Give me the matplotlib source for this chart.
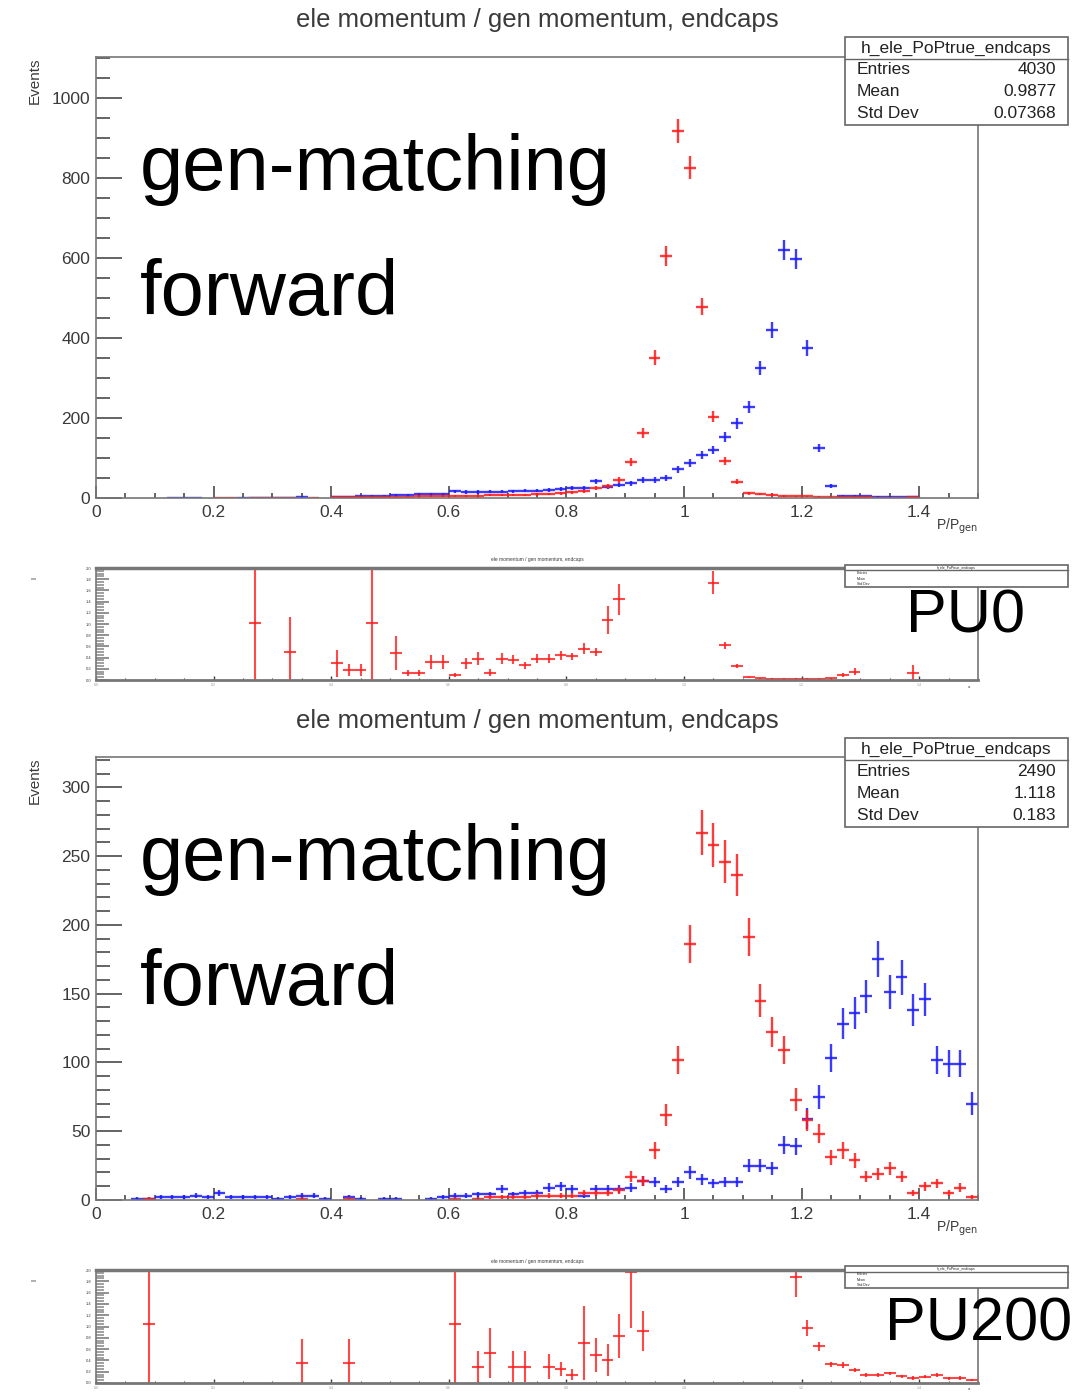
import numpy as np
import matplotlib
matplotlib.use("Agg")
import matplotlib.pyplot as plt
from matplotlib.ticker import MultipleLocator, FuncFormatter
from matplotlib.patches import Rectangle

plt.rcParams['font.family'] = ['Liberation Sans', 'DejaVu Sans']

W, H = 1080, 1394

# 75 bins of 0.02 between 0 and 1.5
bin_edges = np.linspace(0.0, 1.5, 76)
bin_centers = 0.5 * (bin_edges[1:] + bin_edges[:-1])

# PU0, red = gen-matching, blue = forward
pu0_genmatch = [0, 0, 0, 0, 0, 0, 0, 0, 0, 0,
                1, 1, 0, 1, 1, 1, 1, 0, 1, 0,
                2, 2, 2, 2, 3, 3, 3, 4, 4, 5,
                5, 6, 6, 7, 7, 8, 8, 9, 10, 12,
                14, 17, 25, 30, 45, 90, 162, 350, 605, 918,
                825, 478, 203, 92, 41, 12, 10, 7, 5, 4,
                4, 3, 3, 2, 2, 2, 1, 1, 1, 2,
                0, 0, 0, 0, 0]
pu0_forward = [0, 0, 0, 0, 0, 0, 1, 1, 1, 0,
               0, 0, 1, 1, 1, 1, 1, 2, 0, 0,
               3, 3, 4, 5, 6, 7, 8, 9, 9, 10,
               17, 15, 15, 16, 16, 17, 18, 18, 20, 22,
               25, 26, 42, 28, 32, 37, 45, 45, 50, 72,
               87, 107, 120, 153, 187, 228, 325, 420, 620, 597,
               375, 125, 30, 6, 5, 4, 3, 3, 2, 2,
               0, 0, 0, 0, 0]

# PU200
pu200_genmatch = [0, 0, 0, 0, 1, 0, 0, 0, 0, 0,
                  0, 0, 0, 0, 0, 0, 0, 1, 0, 0,
                  0, 1, 0, 0, 0, 0, 0, 0, 0, 0,
                  1, 0, 1, 2, 2, 2, 2, 3, 3, 3,
                  3, 5, 5, 5, 7, 17, 14, 36, 62, 102,
                  186, 267, 258, 246, 236, 191, 145, 122, 109, 73,
                  58, 48, 31, 36, 29, 17, 19, 23, 17, 5,
                  10, 12, 5, 9, 2]
pu200_forward = [0, 0, 0, 1, 1, 2, 2, 2, 3, 2,
                 5, 2, 2, 2, 2, 1, 2, 3, 3, 1,
                 0, 2, 1, 0, 1, 1, 0, 0, 1, 2,
                 3, 3, 4, 4, 8, 4, 5, 5, 9, 10,
                 8, 3, 8, 8, 8, 9, 14, 13, 8, 13,
                 20, 15, 12, 13, 13, 25, 25, 23, 40, 39,
                 59, 75, 103, 128, 136, 148, 175, 151, 162, 138,
                 146, 102, 99, 99, 70]

# ratio panels (gen-matching / forward)
ratio_pu0_x = [0.27, 0.33, 0.41, 0.43, 0.45, 0.47, 0.51, 0.53, 0.55, 0.57,
               0.59, 0.61, 0.63, 0.65, 0.67, 0.69, 0.71, 0.73, 0.75, 0.77,
               0.79, 0.81, 0.83, 0.85, 0.87, 0.89, 1.05, 1.07, 1.09, 1.11,
               1.13, 1.15, 1.17, 1.19, 1.21, 1.23, 1.25, 1.27, 1.29, 1.39]
ratio_pu0 = [1.02, 0.5, 0.3, 0.18, 0.18, 1.02, 0.48, 0.12, 0.12, 0.32,
             0.32, 0.09, 0.3, 0.38, 0.13, 0.38, 0.36, 0.26, 0.38, 0.38,
             0.44, 0.42, 0.56, 0.5, 1.08, 1.44, 1.74, 0.62, 0.25, 0.05,
             0.03, 0.02, 0.02, 0.02, 0.02, 0.02, 0.03, 0.09, 0.15, 0.12]
ratio_pu0_err = [1.1, 0.63, 0.24, 0.1, 0.1, 1.1, 0.3, 0.05, 0.05, 0.12,
                 0.12, 0.04, 0.1, 0.12, 0.06, 0.1, 0.08, 0.07, 0.08, 0.08,
                 0.08, 0.07, 0.1, 0.08, 0.25, 0.28, 0.2, 0.06, 0.03, 0.01,
                 0.01, 0.01, 0.01, 0.01, 0.01, 0.01, 0.01, 0.03, 0.06, 0.14]

ratio_pu200_x = [0.09, 0.35, 0.43, 0.61, 0.65, 0.67, 0.71, 0.73, 0.77, 0.79,
                 0.81, 0.83, 0.85, 0.87, 0.89, 0.91, 0.93, 1.19, 1.21, 1.23,
                 1.25, 1.27, 1.29, 1.31, 1.33, 1.35, 1.37, 1.39, 1.41, 1.43,
                 1.45, 1.47, 1.49]
ratio_pu200 = [1.04, 0.35, 0.35, 1.04, 0.29, 0.53, 0.29, 0.29, 0.29, 0.25,
               0.15, 0.71, 0.5, 0.41, 0.83, 1.97, 0.92, 1.88, 0.97, 0.65,
               0.33, 0.32, 0.23, 0.14, 0.14, 0.17, 0.12, 0.09, 0.11, 0.14,
               0.08, 0.09, 0.05]
ratio_pu200_err = [1.1, 0.42, 0.42, 1.1, 0.28, 0.45, 0.28, 0.28, 0.22, 0.12,
                   0.1, 0.65, 0.3, 0.28, 0.39, 1.0, 0.35, 0.36, 0.14, 0.08,
                   0.05, 0.05, 0.04, 0.03, 0.03, 0.03, 0.03, 0.03, 0.03, 0.03,
                   0.02, 0.03, 0.02]

title = "ele momentum / gen momentum, endcaps"
hist_name = "h_ele_PoPtrue_endcaps"
stats_pu0 = [("Entries", "4030"), ("Mean", "0.9877"), ("Std Dev", "0.07368")]
stats_pu200 = [("Entries", "2490"), ("Mean", "1.118"), ("Std Dev", "0.183")]

RED = '#ff1a1a'
BLUE = '#1a1aff'
GREY = '#3a3a3a'


def fx(x):
    return x / W


def fy(y):
    return 1 - y / H


def px_axes(fig, x0, y0, x1, y1):
    return fig.add_axes([fx(x0), fy(y1), fx(x1) - fx(x0), fy(y0) - fy(y1)])


def draw_hist(ax, counts, color):
    c = np.asarray(counts, dtype=float)
    keep = c > 0
    ax.errorbar(bin_centers[keep], c[keep], xerr=0.01, yerr=np.sqrt(c[keep]),
                fmt='none', ecolor=color, elinewidth=1.7, capsize=0, alpha=0.85)


def style_main(ax, ymax, ymajor, yminor):
    ax.set_xlim(0, 1.5)
    ax.set_ylim(0, ymax)
    ax.xaxis.set_major_locator(MultipleLocator(0.2))
    ax.xaxis.set_minor_locator(MultipleLocator(0.05))
    ax.yaxis.set_major_locator(MultipleLocator(ymajor))
    ax.yaxis.set_minor_locator(MultipleLocator(yminor))
    ax.xaxis.set_major_formatter(FuncFormatter(lambda v, p: '%g' % round(v, 2)))
    ax.tick_params(axis='y', which='major', direction='in', length=19, width=1.1,
                   color=GREY, labelsize=12.5, labelcolor=GREY, pad=4)
    ax.tick_params(axis='y', which='minor', direction='in', length=10, width=1.1, color=GREY)
    ax.tick_params(axis='x', which='major', direction='in', length=9, width=1.1,
                   color=GREY, labelsize=12.5, labelcolor=GREY, pad=5)
    ax.tick_params(axis='x', which='minor', direction='in', length=3.5, width=1.1, color=GREY)
    for s in ax.spines.values():
        s.set_color('#777777')
        s.set_linewidth(1.2)
    ax.set_xlabel(r'P/P$_{\mathrm{gen}}$', fontsize=10, color=GREY, loc='right', labelpad=-2)
    ax.set_ylabel('Events', fontsize=11, color=GREY, loc='top')
    ax.yaxis.set_label_coords(-0.062, 1.0)


def style_ratio(ax):
    ax.set_xlim(0, 1.5)
    ax.set_ylim(0, 2)
    ax.xaxis.set_major_locator(MultipleLocator(0.2))
    ax.xaxis.set_minor_locator(MultipleLocator(0.05))
    ax.yaxis.set_major_locator(MultipleLocator(0.2))
    ax.yaxis.set_minor_locator(MultipleLocator(0.05))
    ax.tick_params(axis='y', which='major', direction='in', length=9, width=1.3,
                   color='#888888', labelsize=3, labelcolor=GREY, pad=3)
    ax.tick_params(axis='y', which='minor', direction='in', length=6, width=1.3, color='#999999')
    ax.tick_params(axis='x', which='major', direction='in', length=3, width=1,
                   color=GREY, labelsize=2.5, labelcolor='#999999', pad=2)
    ax.tick_params(axis='x', which='minor', direction='in', length=1.5, width=0.8, color=GREY)
    for s in ax.spines.values():
        s.set_color('#777777')
        s.set_linewidth(1.2)
    ax.spines['top'].set_linewidth(2.5)
    ax.spines['bottom'].set_linewidth(2.0)


def draw_ratio(ax, xs, vals, errs):
    v = np.asarray(vals)
    e = np.asarray(errs)
    lo = np.minimum(e, v)
    ax.errorbar(xs, v, xerr=0.01, yerr=[lo, e], fmt='none', ecolor=RED,
                elinewidth=1.5, capsize=0, alpha=0.8, clip_on=True)


def stats_box(fig, x0, y0, x1, y1, name, rows, fs):
    fig.patches.append(Rectangle((fx(x0), fy(y1)), fx(x1) - fx(x0), fy(y0) - fy(y1),
                                 transform=fig.transFigure, facecolor='white',
                                 edgecolor='#666666', lw=1.2, zorder=5))
    hh = (y1 - y0) / 4.0
    fig.add_artist(plt.Line2D([fx(x0), fx(x1)], [fy(y0 + hh), fy(y0 + hh)],
                              transform=fig.transFigure, color='#666666', lw=1.0, zorder=6))
    fig.text(fx((x0 + x1) / 2), fy(y0 + hh / 2), name, ha='center', va='center',
             fontsize=fs, color='#222222', zorder=7)
    for i, (k, val) in enumerate(rows):
        yy = y0 + hh * (i + 1.5)
        fig.text(fx(x0 + 12), fy(yy), k, ha='left', va='center', fontsize=fs,
                 color='#222222', zorder=7)
        fig.text(fx(x1 - 12), fy(yy), val, ha='right', va='center', fontsize=fs,
                 color='#222222', zorder=7)


fig = plt.figure(figsize=(W / 100, H / 100), dpi=100)

# ---- PU0 main panel
ax1 = px_axes(fig, 96, 57, 978, 498)
draw_hist(ax1, pu0_forward, BLUE)
draw_hist(ax1, pu0_genmatch, RED)
style_main(ax1, 1102, 200, 50)
fig.text(fx(537), fy(20), title, ha='center', va='center', fontsize=18.5, color=GREY)
stats_box(fig, 845, 37, 1068, 125, hist_name, stats_pu0, 12.5)
fig.text(fx(140), fy(190), 'gen-matching', fontsize=56, color='black', va='baseline')
fig.text(fx(140), fy(315), 'forward', fontsize=56, color='black', va='baseline')

# ---- PU0 ratio panel
ax2 = px_axes(fig, 96, 568, 978, 680)
style_ratio(ax2)
draw_ratio(ax2, ratio_pu0_x, ratio_pu0, ratio_pu0_err)
fig.text(fx(537), fy(560), title, ha='center', va='center', fontsize=3.5, color=GREY)
stats_box(fig, 845, 565, 1068, 587, hist_name, [("Entries", ""), ("Mean", ""), ("Std Dev", "")], 2.5)
fig.text(fx(35), fy(578), 'l', rotation=90, fontsize=6, color=GREY, ha='center', va='center')
fig.text(fx(968), fy(688), 'a', fontsize=3, color=GREY)
fig.text(fx(1025), fy(617), 'PU0', fontsize=44, color='black', ha='right', va='center')

# ---- PU200 main panel
ax3 = px_axes(fig, 96, 757, 978, 1200)
draw_hist(ax3, pu200_forward, BLUE)
draw_hist(ax3, pu200_genmatch, RED)
style_main(ax3, 322, 50, 10)
fig.text(fx(537), fy(721), title, ha='center', va='center', fontsize=18.5, color=GREY)
stats_box(fig, 845, 738, 1068, 827, hist_name, stats_pu200, 12.5)
fig.text(fx(140), fy(880), 'gen-matching', fontsize=56, color='black', va='baseline')
fig.text(fx(140), fy(1005), 'forward', fontsize=56, color='black', va='baseline')

# ---- PU200 ratio panel
ax4 = px_axes(fig, 96, 1270, 978, 1383)
style_ratio(ax4)
draw_ratio(ax4, ratio_pu200_x, ratio_pu200, ratio_pu200_err)
fig.text(fx(537), fy(1262), title, ha='center', va='center', fontsize=3.5, color=GREY)
stats_box(fig, 845, 1266, 1068, 1288, hist_name, [("Entries", ""), ("Mean", ""), ("Std Dev", "")], 2.5)
fig.text(fx(35), fy(1280), 'l', rotation=90, fontsize=6, color=GREY, ha='center', va='center')
fig.text(fx(968), fy(1390), 'a', fontsize=3, color=GREY)
fig.text(fx(1072), fy(1325), 'PU200', fontsize=44, color='black', ha='right', va='center')

fig.savefig('out.png', dpi=100, facecolor='white')
